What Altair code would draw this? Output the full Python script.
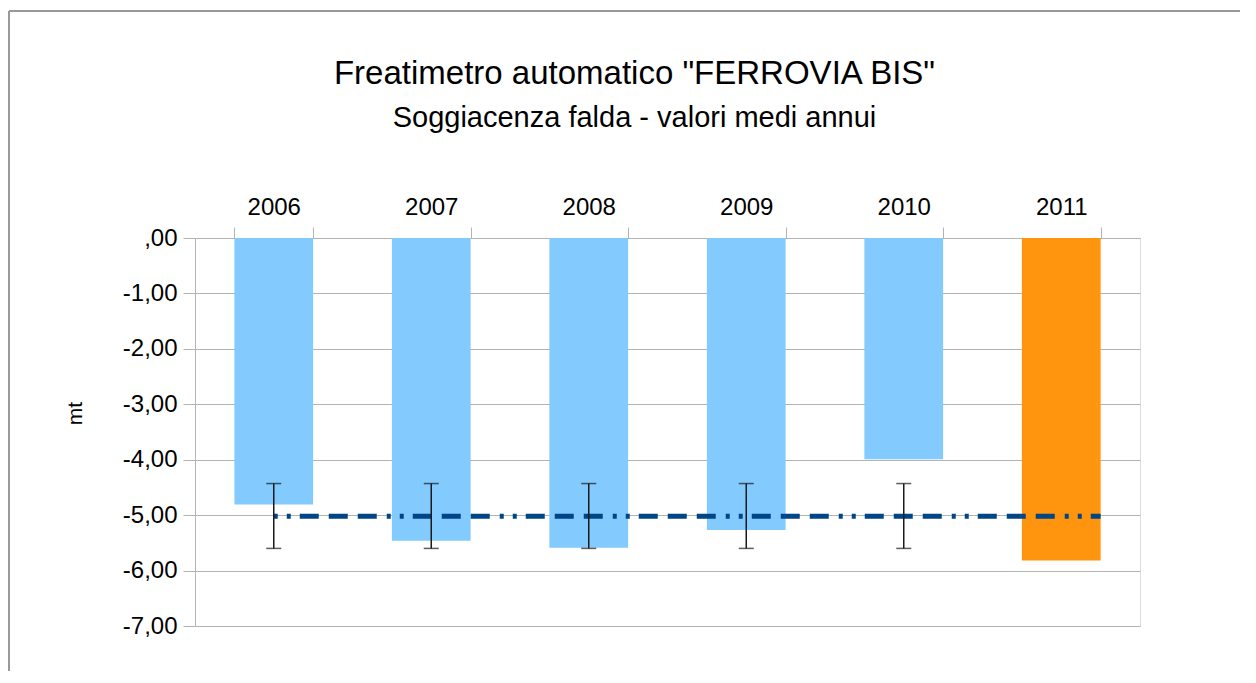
import altair as alt
import pandas as pd

# ---- data ----
years = ["2006", "2007", "2008", "2009", "2010", "2011"]
soggiacenza = [-4.81, -5.46, -5.59, -5.27, -3.99, -5.82]

err_years = ["2006", "2007", "2008", "2009", "2010"]
err_low = [-5.60, -5.60, -5.60, -5.60, -5.60]
err_high = [-4.43, -4.43, -4.43, -4.43, -4.43]

media_start = "2006"
media_end = "2011"
media_value = -5.02

y_ticks = [0, -1, -2, -3, -4, -5, -6, -7]

FONT = "Liberation Sans"
GRID = "#b3b3b3"

bars_df = pd.DataFrame({"year": years, "value": soggiacenza})
err_df = pd.DataFrame({"year": err_years, "low": err_low, "high": err_high})
mean_df = pd.DataFrame({"start": [media_start], "end": [media_end], "media": [media_value]})

x_scale = alt.Scale(domain=years, paddingInner=0.5, paddingOuter=0.25)
y_scale = alt.Scale(domain=[-7, 0], nice=False)

x_axis = alt.Axis(
    orient="top", title=None, labelAngle=0, labelFont=FONT, labelFontSize=24,
    labelColor="black", labelPadding=8, tickBand="extent", tickSize=11,
    tickColor=GRID, domainColor=GRID, grid=False,
)
y_axis = alt.Axis(
    values=y_ticks, title="mt", titleFont=FONT, titleFontSize=21,
    titleFontWeight="normal", titleColor="black", titleAngle=270,
    titleX=-120, titleY=175, titleAlign="center", titleBaseline="middle",
    labelFont=FONT, labelFontSize=24, labelColor="black", labelPadding=6,
    labelExpr="datum.value == 0 ? ',00' : '-' + abs(datum.value) + ',00'",
    tickSize=12, tickColor=GRID, domainColor=GRID, gridColor=GRID, grid=True,
)

bars = alt.Chart(bars_df).mark_bar().encode(
    x=alt.X("year:N", scale=x_scale, axis=x_axis, sort=years),
    y=alt.Y("value:Q", scale=y_scale, axis=y_axis),
    color=alt.condition(alt.datum.year == "2011", alt.value("#FF950E"), alt.value("#83CAFF")),
)

mean_line = alt.Chart(mean_df).mark_rule(
    color="#004586", strokeWidth=5, strokeCap="butt",
    strokeDash=[4, 9, 4, 9, 19, 10, 19, 10, 19, 10],
).encode(
    x=alt.X("start:N", bandPosition=0.5),
    x2=alt.X2("end:N", bandPosition=1),
    y=alt.Y("media:Q"),
)

err_rule = alt.Chart(err_df).mark_rule(color="#1a1a1a", strokeWidth=1.5).encode(
    x="year:N", y="low:Q", y2="high:Q"
)
cap_low = alt.Chart(err_df).mark_tick(color="#1a1a1a", thickness=1.5, size=15, orient="horizontal").encode(
    x="year:N", y="low:Q"
)
cap_high = alt.Chart(err_df).mark_tick(color="#1a1a1a", thickness=1.5, size=15, orient="horizontal").encode(
    x="year:N", y="high:Q"
)

frame_df = pd.DataFrame({"k": [1]})
frame_top = alt.Chart(frame_df).mark_rule(color="#999999", strokeWidth=2).encode(
    x=alt.value(-186), x2=alt.value(1200), y=alt.value(-227)
)
frame_left = alt.Chart(frame_df).mark_rule(color="#999999", strokeWidth=2).encode(
    x=alt.value(-186), y=alt.value(-227), y2=alt.value(500)
)

chart = alt.layer(
    bars, mean_line, err_rule, cap_low, cap_high, frame_top, frame_left
).properties(
    width=945,
    height=388,
    autosize=alt.AutoSizeParams(type="none"),
    padding={"left": 187, "top": 230, "right": 100, "bottom": 45},
    title=alt.TitleParams(
        text='Freatimetro automatico "FERROVIA BIS"',
        subtitle="Soggiacenza falda - valori medi annui",
        font=FONT, subtitleFont=FONT, fontSize=33, subtitleFontSize=29,
        fontWeight="normal", color="black", subtitleColor="black",
        anchor="middle", offset=0, subtitlePadding=13, dx=-33, dy=123,
    ),
).configure_view(stroke=GRID, strokeWidth=1).configure(background="white")

chart.save("out.html", embed_options={"renderer": "svg", "actions": False})
